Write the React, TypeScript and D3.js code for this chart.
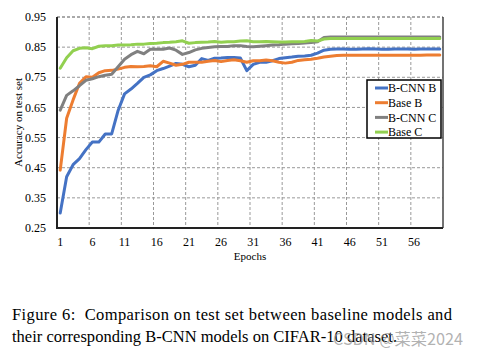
import React from 'react';
import * as d3 from 'd3';

const epochs: number[] = [
  1, 2, 3, 4, 5, 6, 7, 8, 9, 10, 11, 12, 13, 14, 15, 16, 17, 18, 19, 20,
  21, 22, 23, 24, 25, 26, 27, 28, 29, 30, 31, 32, 33, 34, 35, 36, 37, 38, 39, 40,
  41, 42, 43, 44, 45, 46, 47, 48, 49, 50, 51, 52, 53, 54, 55, 56, 57, 58, 59, 60,
];

const xTickEpochs: number[] = [1, 6, 11, 16, 21, 26, 31, 36, 41, 46, 51, 56];
const yTicks: number[] = [0.25, 0.35, 0.45, 0.55, 0.65, 0.75, 0.85, 0.95];
const yTickLabels: string[] = ['0.25', '0.35', '0.45', '0.55', '0.65', '0.75', '0.85', '0.95'];

const bcnnB: number[] = [
  0.30, 0.42, 0.46, 0.48, 0.51, 0.535, 0.535, 0.562, 0.562, 0.64,
  0.695, 0.711, 0.73, 0.75, 0.758, 0.772, 0.779, 0.787, 0.796, 0.793,
  0.785, 0.79, 0.812, 0.806, 0.813, 0.814, 0.816, 0.816, 0.814, 0.772,
  0.793, 0.80, 0.80, 0.805, 0.812, 0.815, 0.817, 0.82, 0.821, 0.823,
  0.83, 0.84, 0.843, 0.844, 0.844, 0.843, 0.843, 0.844, 0.845, 0.844,
  0.843, 0.843, 0.844, 0.844, 0.844, 0.843, 0.844, 0.844, 0.844, 0.844,
];

const baseB: number[] = [
  0.442, 0.614, 0.675, 0.73, 0.752, 0.75, 0.765, 0.772, 0.773, 0.777,
  0.783, 0.786, 0.785, 0.786, 0.788, 0.785, 0.803, 0.797, 0.79, 0.793,
  0.80, 0.80, 0.80, 0.803, 0.806, 0.802, 0.806, 0.808, 0.805, 0.80,
  0.805, 0.805, 0.807, 0.805, 0.80, 0.797, 0.80, 0.806, 0.808, 0.81,
  0.813, 0.817, 0.82, 0.822, 0.823, 0.823, 0.823, 0.823, 0.823, 0.823,
  0.823, 0.823, 0.823, 0.823, 0.823, 0.823, 0.823, 0.824, 0.824, 0.824,
];

const bcnnC: number[] = [
  0.641, 0.69, 0.705, 0.722, 0.74, 0.745, 0.752, 0.757, 0.76, 0.785,
  0.81, 0.825, 0.836, 0.828, 0.843, 0.843, 0.843, 0.847, 0.84, 0.826,
  0.832, 0.841, 0.846, 0.849, 0.851, 0.852, 0.852, 0.855, 0.855, 0.852,
  0.851, 0.853, 0.855, 0.857, 0.858, 0.86, 0.861, 0.862, 0.864, 0.865,
  0.868, 0.882, 0.884, 0.884, 0.884, 0.884, 0.884, 0.884, 0.884, 0.884,
  0.884, 0.884, 0.884, 0.884, 0.884, 0.884, 0.884, 0.884, 0.884, 0.884,
];

const baseC: number[] = [
  0.78, 0.815, 0.838, 0.846, 0.848, 0.845, 0.853, 0.855, 0.855, 0.857,
  0.857, 0.858, 0.86, 0.86, 0.862, 0.863, 0.865, 0.866, 0.868, 0.871,
  0.863, 0.865, 0.866, 0.867, 0.869, 0.866, 0.868, 0.868, 0.87, 0.871,
  0.868, 0.868, 0.869, 0.868, 0.867, 0.867, 0.868, 0.868, 0.869, 0.872,
  0.87, 0.877, 0.879, 0.879, 0.879, 0.879, 0.879, 0.879, 0.879, 0.879,
  0.879, 0.879, 0.879, 0.879, 0.879, 0.879, 0.879, 0.879, 0.879, 0.879,
];

const seriesNames: string[] = ['B-CNN B', 'Base B', 'B-CNN C', 'Base C'];
const seriesColors: string[] = ['#4472C4', '#ED7D31', '#808080', '#92D050'];
const seriesValues: number[][] = [bcnnB, baseB, bcnnC, baseC];

const captionLine1 = 'Figure 6:  Comparison on test set between baseline models and';
const captionLine2 = 'their corresponding B-CNN models on CIFAR-10 dataset.';
const watermark = 'CSDN @菜菜2024';

const serif = '"Liberation Serif", "Times New Roman", serif';

export default function App() {
  const left = 57, right = 443, top = 17, bottom = 228;
  const x = d3.scalePoint<number>().domain(epochs).range([left, right]).padding(0.5);
  const step = x.step();
  const y = d3.scaleLinear().domain([0.25, 0.95]).range([bottom, top]);
  const line = d3
    .line<number>()
    .x((_, i) => x(epochs[i]) as number)
    .y((d) => y(d));

  const legendX = 367, legendY = 80, legendW = 74, legendH = 58;

  return (
    <svg
      width={479}
      height={359}
      style={{ position: 'absolute', left: 0, top: 0, background: '#fff' }}
      fontFamily={serif}
    >
      <rect x={0} y={0} width={479} height={359} fill="#fff" />
      {yTicks.slice(1).map((t) => (
        <line
          key={'hg' + t}
          x1={left}
          x2={right}
          y1={y(t)}
          y2={y(t)}
          stroke={t === 0.95 ? '#555' : '#999'}
          strokeWidth={1}
          strokeDasharray="3,2"
        />
      ))}
      {xTickEpochs.slice(1).map((e) => (
        <line
          key={'vg' + e}
          x1={(x(e) as number) - step / 2}
          x2={(x(e) as number) - step / 2}
          y1={top}
          y2={bottom}
          stroke="#999"
          strokeWidth={1}
          strokeDasharray="3,2"
        />
      ))}
      <line x1={right} x2={right} y1={top} y2={bottom} stroke="#444" strokeWidth={1.5} />
      <line x1={left} x2={left} y1={top} y2={bottom + 1} stroke="#222" strokeWidth={2} />
      <line x1={left - 1} x2={right} y1={bottom} y2={bottom} stroke="#222" strokeWidth={2} />

      {seriesValues.map((vals, i) => (
        <path
          key={seriesNames[i]}
          d={line(vals) || ''}
          fill="none"
          stroke={seriesColors[i]}
          strokeWidth={3}
          strokeLinejoin="round"
          strokeLinecap="round"
        />
      ))}

      {yTicks.map((t, i) => (
        <text key={'yl' + t} x={46} y={y(t)} dy="0.35em" textAnchor="end" fontSize={12} fill="#000">
          {yTickLabels[i]}
        </text>
      ))}
      {xTickEpochs.map((e) => (
        <text key={'xl' + e} x={x(e) as number} y={246} textAnchor="middle" fontSize={12} fill="#000">
          {String(e)}
        </text>
      ))}
      <text x={(left + right) / 2} y={260} textAnchor="middle" fontSize={11} fill="#000">
        Epochs
      </text>
      <text
        transform={`translate(22,${(top + bottom) / 2}) rotate(-90)`}
        textAnchor="middle"
        fontSize={11}
        fill="#000"
      >
        Accuracy on test set
      </text>

      <rect x={legendX} y={legendY} width={legendW} height={legendH} fill="#fff" stroke="#000" strokeWidth={1.5} />
      {seriesNames.map((n, i) => {
        const ly = 88 + i * 14.7;
        return (
          <g key={'lg' + n}>
            <line x1={375} x2={388} y1={ly} y2={ly} stroke={seriesColors[i]} strokeWidth={3} />
            <text x={388} y={ly} dy="0.35em" fontSize={12} fill="#000">
              {n}
            </text>
          </g>
        );
      })}

      <text x={12} y={320} fontSize={16.5} fill="#000" textLength={440} lengthAdjust="spacing" style={{ whiteSpace: 'pre' }}>
        {captionLine1}
      </text>
      <text x={12} y={342} fontSize={16.5} fill="#000" textLength={385} lengthAdjust="spacing">
        {captionLine2}
      </text>
      <text
        x={333}
        y={345}
        fontSize={16}
        fill="#999"
        fillOpacity={0.75}
        fontFamily='"Noto Sans CJK SC", "Noto Sans", sans-serif'
        textLength={130}
        lengthAdjust="spacingAndGlyphs"
      >
        {watermark}
      </text>
    </svg>
  );
}
